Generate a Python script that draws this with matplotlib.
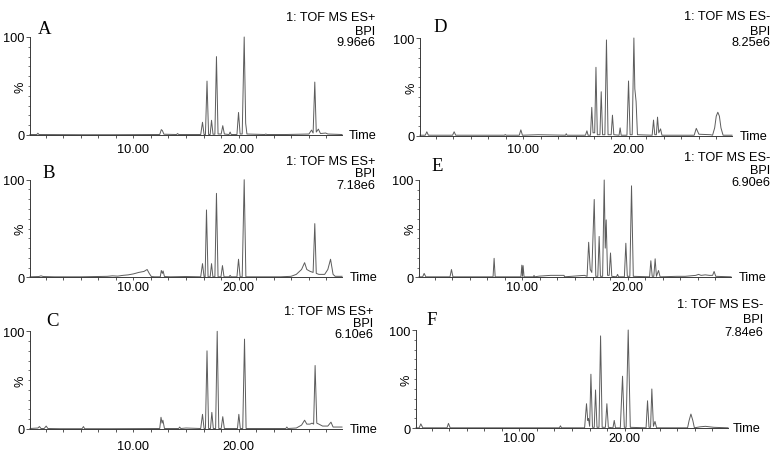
import numpy as np
import matplotlib
matplotlib.use('Agg')
import matplotlib.pyplot as plt
from matplotlib.ticker import FixedLocator

plt.rcParams['font.family'] = ['Liberation Sans', 'DejaVu Sans']

W, H = 779, 456

# ---------------- data: chromatogram vertices (time in min, intensity in %) ----------------
time_A = [0.15, 0.8, 0.9, 1.0, 5.0, 8.0, 12.5, 12.65, 12.75, 12.9, 14.1, 14.2, 14.3,
          16.4, 16.57, 16.72, 16.85, 17.0, 17.15, 17.3, 17.43, 17.57, 17.75, 17.9, 18.05,
          18.35, 18.5, 18.65, 19.1, 19.2, 19.3, 19.85, 20.0, 20.15, 20.35, 20.54, 20.68, 20.8,
          22.5, 22.6, 22.7, 24.5, 26.7, 26.95, 27.1, 27.26, 27.4, 27.6, 27.8, 28.3, 28.5, 29.85]
pct_A = [0.5, 0.5, 1.8, 0.5, 0.3, 0.3, 0.5, 5.5, 4.5, 0.8, 0.5, 1.5, 0.5,
         0.5, 13, 0.5, 0.5, 55, 0.5, 0.5, 15, 0.8, 0.8, 80, 1,
         1, 9.5, 1, 0.5, 3, 0.5, 0.5, 23, 1, 1, 100, 12, 1,
         0.5, 1, 0.5, 0.5, 1, 5, 2, 54, 3, 6, 1.5, 2, 1, 0.5]

time_B = [0.15, 1.0, 1.2, 1.4, 2.5, 5.0, 6.5, 7.5, 8.0, 8.5, 9.0, 9.5, 10.0, 10.5, 11.0,
          11.3, 11.5, 11.7, 12.0, 12.55, 12.65, 12.75, 12.82, 12.95, 13.5, 15.0,
          16.4, 16.57, 16.72, 16.82, 16.95, 17.1, 17.3, 17.43, 17.56, 17.75, 17.9, 18.05,
          18.33, 18.47, 18.62, 19.1, 19.2, 19.3, 19.85, 20.0, 20.15, 20.35, 20.54, 20.7,
          22.0, 24.0, 25.0, 25.5, 26.0, 26.29, 26.5, 26.83, 27.1, 27.26, 27.4, 27.65, 28.2,
          28.5, 28.76, 29.0, 29.2, 29.85]
pct_B = [0.5, 0.8, 1.5, 0.8, 0.5, 0.5, 0.8, 1, 1.5, 1.2, 2, 2.5, 3.5, 5, 6,
         8, 4, 0.8, 0.5, 0.5, 7, 4, 6.5, 0.8, 0.5, 0.8,
         0.5, 14, 0.5, 0.5, 69, 0.5, 0.5, 14, 0.5, 0.5, 86, 0.5,
         0.5, 12, 0.5, 0.5, 2, 0.5, 0.5, 18.5, 0.5, 0.5, 100, 0.5,
         0.5, 0.5, 1, 3, 8, 15, 8, 6, 5, 55, 4, 3, 3,
         8, 18.5, 3, 1, 1]

time_C = [0.15, 0.9, 1.05, 1.2, 1.5, 1.69, 1.85, 3.0, 5.1, 5.24, 5.35, 8.0,
          12.5, 12.62, 12.72, 12.8, 12.95, 14.3, 14.4, 14.5, 15.0,
          16.4, 16.57, 16.72, 16.85, 17.0, 17.15, 17.33, 17.46, 17.6, 17.82, 17.97, 18.12,
          18.35, 18.5, 18.65, 19.9, 20.03, 20.17, 20.4, 20.57, 20.72, 22.0, 24.5, 24.6, 24.7,
          25.5, 26.0, 26.29, 26.5, 26.8, 27.0, 27.15, 27.29, 27.45, 27.65, 28.0, 28.5, 28.8,
          29.0, 29.85]
pct_C = [0.5, 1, 2.5, 0.5, 0.5, 3, 0.5, 0.3, 0.3, 2.5, 0.3, 0.3,
         0.5, 12, 6, 9, 0.5, 0.5, 2, 0.5, 1,
         0.5, 15, 0.5, 0.5, 80, 0.5, 0.5, 17, 0.5, 0.5, 100, 0.5,
         0.5, 12.6, 0.5, 0.5, 15, 0.5, 0.5, 92, 0.5, 0.5, 0.5, 2, 0.5,
         1, 4, 9, 5, 5, 6, 5, 65, 6, 5, 3, 3, 7,
         2, 2]

time_D = [0.15, 0.65, 0.8, 0.95, 3.25, 3.4, 3.55, 8.2, 8.26, 8.35, 9.6, 9.75, 9.9,
          11.4, 14.0, 14.07, 14.15, 15.9, 16.04, 16.15, 16.38, 16.5, 16.62, 16.78, 16.9,
          17.03, 17.28, 17.4, 17.53, 17.75, 17.9, 18.05, 18.35, 18.47, 18.6, 19.1, 19.2,
          19.3, 19.85, 20.0, 20.15, 20.35, 20.51, 20.6, 20.72, 20.85, 22.25, 22.38, 22.5,
          22.65, 22.76, 22.88, 23.05, 23.18, 24.5, 26.25, 26.45, 26.7, 27.8, 28.0, 28.2,
          28.35, 28.5, 28.65, 28.8, 29.0, 29.85]
pct_D = [0.5, 0.5, 4, 0.5, 0.5, 4, 0.5, 0.5, 1.2, 0.5, 0.5, 6, 0.5,
         1, 0.5, 2, 0.5, 0.5, 5, 0.5, 0.5, 29, 3, 3, 70,
         1, 1, 45, 1, 1, 98, 1, 1, 21, 1, 0.5, 8,
         0.5, 0.5, 56, 1, 1, 100, 48, 35, 1, 0.5, 16, 1,
         1, 19, 3, 7, 0.5, 0.5, 0.5, 7.5, 1.5, 1, 0.5, 8,
         20, 24, 20, 8, 0.5, 0.5]

time_E = [0.15, 0.5, 0.64, 0.8, 3.1, 3.24, 3.38, 7.2, 7.3, 7.4, 9.85, 9.94, 10.0, 10.06,
          10.15, 11.05, 11.1, 11.15, 11.6, 12.7, 13.96, 14.0, 15.9, 16.15, 16.3, 16.45,
          16.6, 16.83, 16.98, 17.17, 17.3, 17.42, 17.63, 17.78, 17.88, 17.97, 18.1, 18.25,
          18.38, 18.5, 18.95, 19.05, 19.15, 19.7, 19.84, 19.98, 20.22, 20.38, 20.55, 22.1,
          22.22, 22.35, 22.5, 22.63, 22.75, 22.95, 23.1, 24.7, 25.5, 26.0, 26.5, 26.76,
          27.0, 27.4, 27.8, 28.1, 28.24, 28.4, 29.85]
pct_E = [0.5, 0.5, 4, 0.5, 0.5, 8, 0.5, 0.5, 19.5, 0.5, 0.5, 12.5, 1, 12,
         0.5, 0.5, 2, 0.5, 1.2, 2, 2, 0.5, 2, 1, 36, 8,
         5, 80, 1, 1, 42, 1, 1, 100, 30, 59, 2, 2,
         25, 1, 0.5, 3, 0.5, 0.5, 35, 1, 1, 94, 1, 0.5,
         17, 1, 1, 19, 1, 7, 0.5, 1, 1, 1.5, 2, 3,
         2, 2.5, 2, 2, 6, 1, 0.5]

time_F = [0.15, 0.45, 0.61, 0.8, 3.1, 3.24, 3.4, 13.8, 13.9, 14.0, 16.2, 16.38, 16.5,
          16.57, 16.68, 16.8, 16.95, 17.12, 17.24, 17.38, 17.57, 17.72, 17.87, 18.18, 18.32,
          18.46, 18.9, 19.02, 19.14, 19.6, 19.81, 19.98, 20.15, 20.35, 20.55, 22.05, 22.19,
          22.33, 22.48, 22.6, 22.75, 22.9, 23.05, 26.0, 26.15, 26.32, 26.5, 26.65, 27.2,
          27.7, 28.5, 29.85]
pct_F = [0.5, 0.5, 4.5, 0.5, 0.5, 5, 0.5, 0.5, 2.5, 0.5, 0.5, 25, 8,
         10, 2, 55, 1, 1, 39, 1, 1, 94, 1, 1, 25,
         1, 0.5, 8, 0.5, 0.5, 53, 1, 1, 100, 1, 0.5, 28,
         1, 1, 40, 2, 7, 0.5, 0.5, 8, 14.5, 8, 0.5, 1.5,
         2, 1, 0.5]

letters = ['A', 'B', 'C', 'D', 'E', 'F']
modes = ['1: TOF MS ES+', '1: TOF MS ES+', '1: TOF MS ES+',
         '1: TOF MS ES-', '1: TOF MS ES-', '1: TOF MS ES-']
scales = ['9.96e6', '7.18e6', '6.10e6', '8.25e6', '6.90e6', '7.84e6']
x_major = [10.0, 20.0]
x_major_labels = ['10.00', '20.00']
y_major = [0, 100]
y_major_labels = ['0', '100']

series = [(time_A, pct_A), (time_B, pct_B), (time_C, pct_C),
          (time_D, pct_D), (time_E, pct_E), (time_F, pct_F)]

# ---------------- layout (pixels) ----------------
# left, right, y(0%), y(100%), x-label pad(pt)
geom = [
    (30, 342, 136.0, 38.0, 3.6),
    (30, 342, 278.3, 180.7, 0.6),
    (30, 342, 430.0, 332.3, 5.3),
    (420, 732, 136.7, 39.0, 2.9),
    (419, 731, 278.3, 181.0, 0.6),
    (416, 728, 429.3, 331.0, 0.4),
]
# header text: right x, y of three lines
hdr = [
    (375, (18, 32, 43)),
    (375, (162, 174, 186)),
    (373, (312, 324, 335)),
    (770, (17, 32, 43)),
    (770, (158, 171, 183)),
    (763, (305, 320, 333)),
]
letter_pos = [(45, 29), (49, 174), (52.5, 321.5), (440, 27.5), (437.5, 166.5), (432, 320.5)]
time_x = [349, 350, 350, 740, 739, 733]

fig = plt.figure(figsize=(W / 100, H / 100), dpi=100)

def fx(px):
    return px / W

def fy(py):
    return 1 - py / H

line_col = '#5c5c5c'
axis_col = '#3a3a3a'
fs = 9.2

x_minor = np.arange(0, 30.01, 10 / 6)

for i in range(6):
    left, right, y0, y100, pad = geom[i]
    ax = fig.add_axes([fx(left), fy(y0), (right - left) / W, (y0 - y100) / H])
    t, p = series[i]
    ax.plot(t, p, color=line_col, lw=0.7, clip_on=False)
    ax.set_xlim(0.15, 29.85)
    ax.set_ylim(0, 100)
    for s in ['top', 'right']:
        ax.spines[s].set_visible(False)
    for s in ['left', 'bottom']:
        ax.spines[s].set_color(axis_col)
        ax.spines[s].set_linewidth(0.7)
    ax.set_xticks(x_major)
    ax.set_xticklabels(x_major_labels)
    ax.xaxis.set_minor_locator(FixedLocator([v for v in x_minor if 0.15 < v < 29.85]))
    ax.set_yticks(y_major)
    ax.set_yticklabels(y_major_labels)
    ax.yaxis.set_minor_locator(FixedLocator(np.arange(10, 100, 10)))
    ax.tick_params(axis='x', which='major', length=2.4, width=0.6, color=axis_col,
                   labelsize=fs, pad=pad)
    ax.tick_params(axis='x', which='minor', length=2.4, width=0.6, color=axis_col)
    ax.tick_params(axis='y', which='major', length=2.9, width=0.6, color=axis_col,
                   labelsize=fs, pad=0.8)
    ax.tick_params(axis='y', which='minor', length=1.6, width=0.5, color=axis_col)
    ax.patch.set_alpha(0)

    # "%" label at mid height
    fig.text(fx(left - 9), fy((y0 + y100) / 2), '%', rotation=90, ha='center', va='center',
             fontsize=fs)
    # "Time" label
    fig.text(fx(time_x[i]), fy(y0), 'Time', ha='left', va='center', fontsize=fs)
    # header
    rx, ys = hdr[i]
    for txt, yy in zip([modes[i], 'BPI', scales[i]], ys):
        fig.text(fx(rx), fy(yy), txt, ha='right', va='center', fontsize=fs)
    # panel letter
    lx, ly = letter_pos[i]
    fig.text(fx(lx), fy(ly), letters[i], ha='center', va='center', fontsize=13.5,
             family=['Liberation Serif', 'DejaVu Serif'])

fig.savefig('out.png', dpi=100)
